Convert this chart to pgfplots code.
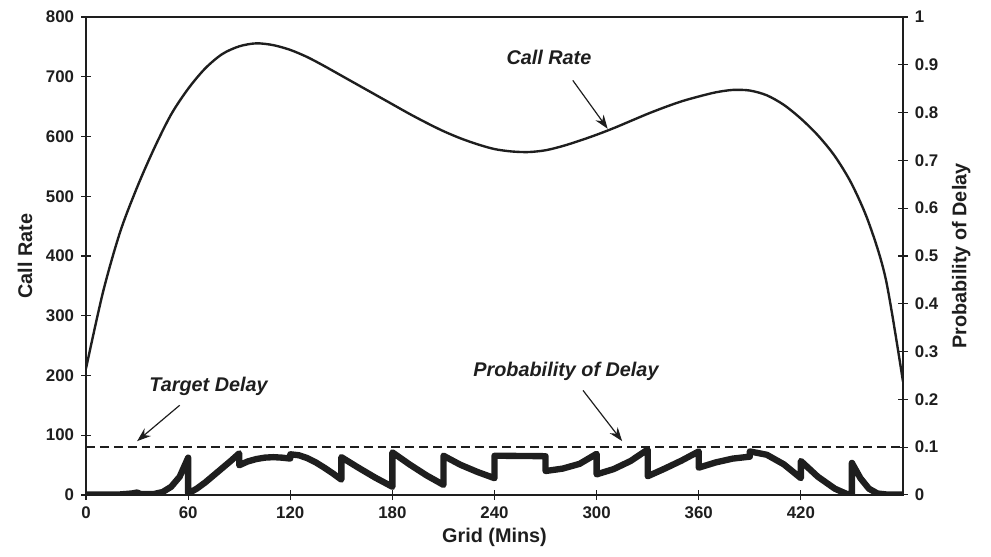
\documentclass[border=0pt]{standalone}
\usepackage{pgfplots}
\pgfplotsset{compat=1.18}
\usepackage{fontspec}
\setmainfont{Liberation Sans}
\usetikzlibrary{arrows.meta}
\definecolor{ink}{RGB}{30,30,30}
\begin{document}
\begin{tikzpicture}
\pgfplotsset{
  common/.style={
    scale only axis, width=412pt, height=241pt,
    xmin=0, xmax=480,
    axis line style={ink, line width=0.7pt},
    major tick length=5pt, tick align=center,
    tick style={ink, line width=0.6pt},
    ticklabel style={font=\fontsize{8.5}{10}\selectfont\bfseries, text=ink},
    /pgf/number format/assume math mode=true,
    label style={font=\fontsize{10}{12}\selectfont\bfseries, text=ink},
  }
}
\begin{axis}[common,
  ymin=0, ymax=800,
  xtick={0,60,120,180,240,300,360,420},
  ytick={0,100,...,800},
  xtick pos=bottom, ytick pos=left,
  xlabel={Grid (Mins)}, ylabel={Call Rate},
  xlabel style={yshift=2pt},
]
\addplot[ink, line width=1.2pt, smooth] coordinates {
(0,212) (10,340) (20,440) (30,515) (40,580) (50,637) (60,680) (70,714)
(80,738) (90,751) (100,756) (110,753) (120,745) (130,733) (140,718)
(150,702) (160,686) (170,670) (180,654) (190,638) (200,623) (210,609)
(220,597) (230,587) (240,579) (250,575) (260,574) (270,577) (280,584)
(290,593) (300,603) (310,614) (320,626) (330,638) (340,649) (350,659)
(360,667) (370,674) (380,678) (390,677) (400,669) (410,653) (420,630)
(430,602) (440,567) (450,520) (460,455) (470,360) (480,190)
};
\node[font=\fontsize{10}{12}\selectfont\bfseries\itshape, text=ink] at (axis cs:272,732) {Call Rate};
\draw[ink, line width=0.6pt, -{Stealth[length=7pt,width=5pt]}] (axis cs:286,694) -- (axis cs:306.5,613);
\node[font=\fontsize{10}{12}\selectfont\bfseries\itshape, text=ink] at (axis cs:72,182) {Target Delay};
\draw[ink, line width=0.6pt, -{Stealth[length=7pt,width=5pt]}] (axis cs:55,150) -- (axis cs:30,90);
\node[font=\fontsize{10}{12}\selectfont\bfseries\itshape, text=ink] at (axis cs:282,207) {Probability of Delay};
\draw[ink, line width=0.6pt, -{Stealth[length=7pt,width=5pt]}] (axis cs:292,175) -- (axis cs:315,90);
\end{axis}
\begin{axis}[common,
  ymin=0, ymax=1,
  axis x line=none, axis y line*=right,
  ytick={0,0.1,...,1},
  yticklabel style={/pgf/number format/fixed, /pgf/number format/precision=1},
  ylabel={Probability of Delay},
]
\addplot[ink, line width=0.8pt, dash pattern=on 4.5pt off 2.5pt] coordinates {(0,0.1) (480,0.1)};
\addplot[ink, line width=3.2pt, line join=round] coordinates {
(0,0.001) (10,0.001) (20,0.001) (27,0.003) (30,0.005) (32,0.002) (40,0.002)
(45,0.006) (50,0.017) (55,0.038) (60,0.078)
(60,0.003) (65,0.013) (70,0.026) (75,0.041) (80,0.056) (85,0.071) (90,0.087)
(90,0.062) (95,0.07) (100,0.075) (105,0.078) (110,0.079) (115,0.078) (120,0.076)
(120,0.085) (125,0.083) (130,0.077) (135,0.068) (140,0.057) (145,0.045) (150,0.032)
(150,0.079) (160,0.057) (170,0.036) (180,0.017)
(180,0.089) (190,0.064) (200,0.041) (210,0.021)
(210,0.082) (220,0.063) (230,0.048) (240,0.035)
(240,0.082) (270,0.081)
(270,0.050) (280,0.055) (290,0.065) (300,0.086)
(300,0.043) (310,0.054) (320,0.071) (330,0.095)
(330,0.039) (340,0.055) (350,0.072) (360,0.091)
(360,0.057) (370,0.068) (380,0.076) (390,0.080)
(390,0.091) (400,0.084) (410,0.064) (420,0.035)
(420,0.071) (430,0.038) (440,0.013) (447,0.002) (450,0.001)
(450,0.067) (455,0.035) (460,0.013) (465,0.003) (470,0.001) (480,0.001)
};
\end{axis}
\pgfresetboundingbox
\path[use as bounding box] (-43.4pt,-31.3pt) rectangle (456.4pt,249.6pt);
\end{tikzpicture}
\end{document}
